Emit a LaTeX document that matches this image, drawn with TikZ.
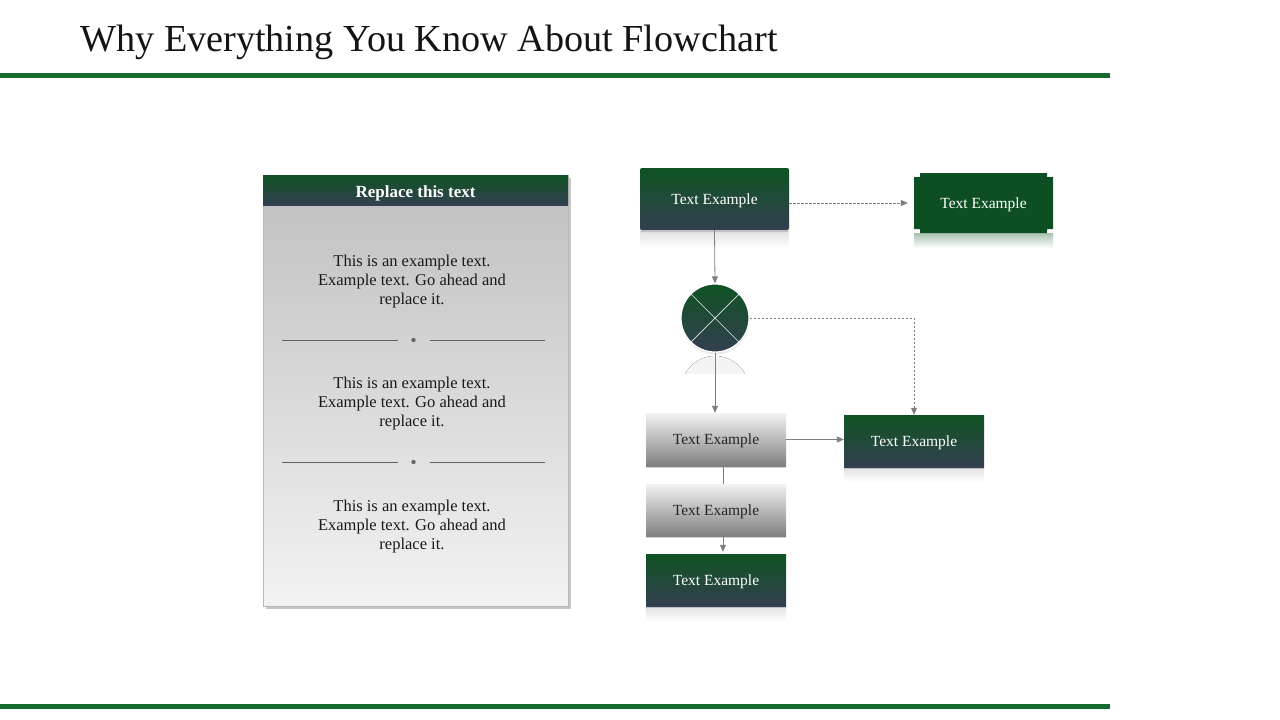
\documentclass[tikz,border=0pt]{standalone}
\usepackage{fontspec}
\setmainfont{Liberation Serif}
\usetikzlibrary{arrows.meta,shadows,calc}
\definecolor{dg}{HTML}{0F5323}
\definecolor{sl}{HTML}{333F50}
\definecolor{ln}{HTML}{156A2E}
\definecolor{ar}{HTML}{7F7F7F}
\definecolor{bg}{HTML}{0D4F22}
\tikzset{
  boxtext/.style={font=\fontsize{15.5}{17}\selectfont, inner sep=0pt, text height=12pt, text depth=2pt},
  gbox/.style={boxtext, top color=dg, bottom color=sl, text=white,
    minimum width=140pt, minimum height=52pt,
    drop shadow={opacity=0.35, shadow xshift=0pt, shadow yshift=-2pt}},
  graybox/.style={boxtext, top color=gray!10, bottom color=gray, text=black!85,
    minimum width=140pt, minimum height=52pt,
    drop shadow={opacity=0.35, shadow xshift=0pt, shadow yshift=-2pt}},
  refl/.style={top color=gray!22, bottom color=white, draw=none},
  conn/.style={ar, line width=0.8pt, -{Triangle[length=7pt,width=6pt]}},
  dconn/.style={conn, dash pattern=on 2.5pt off 1.5pt, line width=0.7pt},
  bodytext/.style={align=center, font=\fontsize{16.5}{19}\selectfont, text=black!90},
  sepline/.style={gray!75!black, line width=0.6pt},
}
\begin{document}
\begin{tikzpicture}[x=1pt,y=-1pt]
\useasboundingbox (0,0) rectangle (1280,720);
% title and rules
\node[anchor=base west, font=\fontsize{38.2}{40}\selectfont, inner sep=0pt, text=black!92] (title) at (80,51) {Why Everything You Know About Flowchart};
\fill[ln] (0,73) rectangle (1110,77.5);
\fill[ln] (0,704) rectangle (1110,708.5);

% left panel
\node[draw=gray!55, line width=0.6pt, top color=gray!50, bottom color=gray!10,
  minimum width=305pt, minimum height=431pt, inner sep=0pt,
  drop shadow={opacity=0.45, shadow xshift=3pt, shadow yshift=-3pt}] (panel) at (415.5,390.5) {};
\node[top color=dg, bottom color=sl, minimum width=305pt, minimum height=30pt, inner sep=0pt,
  text height=16pt, text depth=2pt,
  text=white, font=\bfseries\fontsize{17}{19}\selectfont] (head) at (415.5,190) {Replace this text};
\node[bodytext] (t1) at (412,282) {This is an example text.\\Example text. Go ahead and\\replace it.};
\node[bodytext] (t2) at (412,404) {This is an example text.\\Example text. Go ahead and\\replace it.};
\node[bodytext] (t3) at (412,527) {This is an example text.\\Example text. Go ahead and\\replace it.};
\foreach \yy in {340,462}{
  \draw[sepline] (282,\yy) -- (398,\yy);
  \draw[sepline] (430,\yy) -- (545,\yy);
  \fill[gray!80!black] (413.5,\yy) circle (2.2pt);
}

% reflections
\fill[refl] (640,231) rectangle (789,248);
\fill[top color=bg!35, bottom color=white] (914,233) rectangle (1053,248);
\fill[refl] (844,468) rectangle (984,482);
\fill[refl] (646,607) rectangle (786,622);
\begin{scope}
  \clip (680,356) rectangle (750,373);
  \fill[top color=gray!10, bottom color=white] (715,390) circle (34);
\end{scope}

% right flow
\node[gbox, minimum width=149pt, minimum height=62pt, rounded corners=2pt] (A) at (714.5,199) {Text Example};
\fill[bg] (920,173) -- (1047,173) -- (1047,177) -- (1053,177) -- (1053,229) -- (1047,229)
  -- (1047,233) -- (920,233) -- (920,229) -- (914,229) -- (914,177) -- (920,177) -- cycle;
\node[boxtext, text=white, minimum width=139pt, minimum height=60pt] (B) at (983.5,203) {Text Example};
\node[circle, minimum size=68pt, inner sep=0pt, top color=dg, bottom color=sl, draw=white, line width=1.2pt,
  circular drop shadow={opacity=0.4, shadow xshift=0pt, shadow yshift=-2pt, shadow scale=1.03}] (circ) at (715,318) {};
\draw[white!80!gray, line width=0.7pt] (circ.45) -- (circ.225);
\draw[white!80!gray, line width=0.7pt] (circ.135) -- (circ.315);
\node[graybox, minimum width=140pt, minimum height=53pt] (C) at (716,439.5) {Text Example};
\node[gbox] (D) at (914,441) {Text Example};
\node[graybox] (E) at (716,510) {Text Example};
\node[gbox] (F) at (716,580) {Text Example};

% connectors
\draw[dconn, shorten >=6pt] (A.east |- B.west) -- (B.west);
\draw[conn] (A.south) -- (circ.north);
\draw[dconn] (circ.east) -| (D.north);
\draw[conn] (circ.south) -- ($(C.north)+(-1,0)$);
\draw[conn] (C.east) -- (D.west |- C.east);
\draw[ar, line width=0.8pt] ($(C.south)+(7,0)$) -- ($(E.north)+(7,0)$);
\draw[conn] ($(E.south)+(7,0)$) -- ($(F.north)+(7,-2)$);
\end{tikzpicture}
\end{document}
